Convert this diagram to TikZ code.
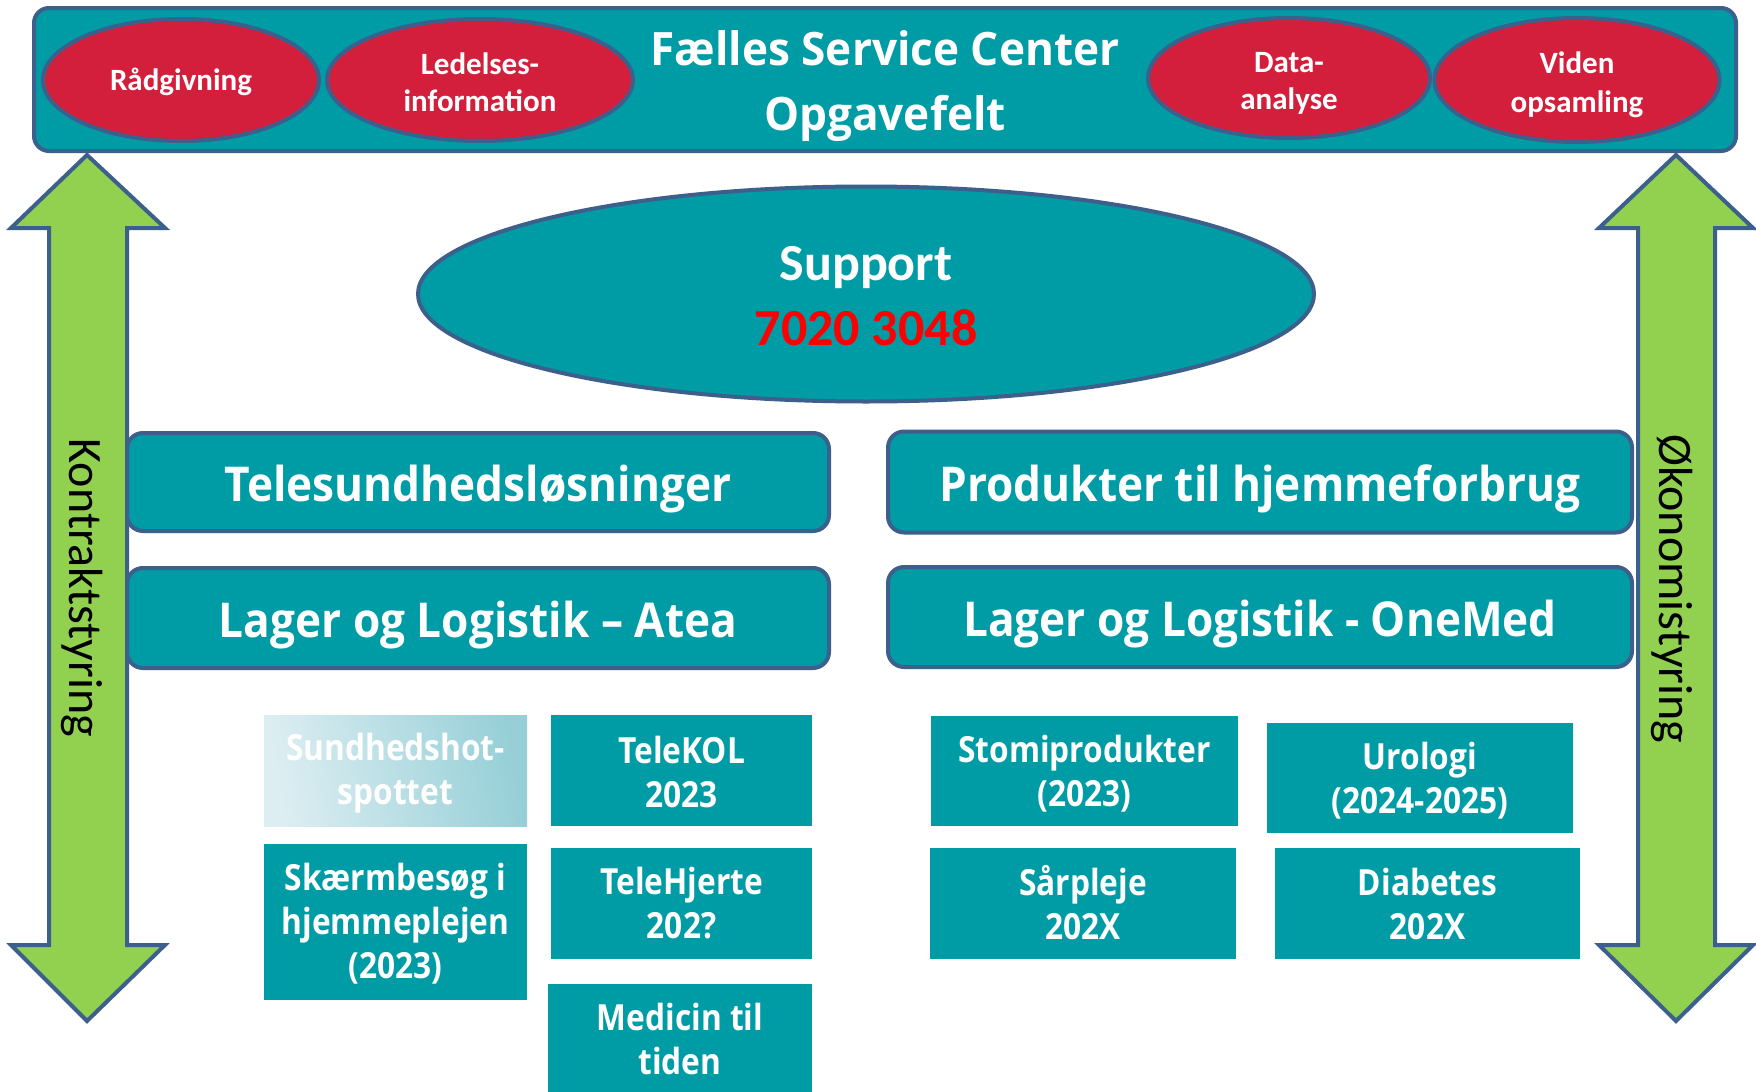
\documentclass[tikz,border=0pt]{standalone}
\usepackage{fontspec}
\usetikzlibrary{shapes.geometric}
\setmainfont{Carlito}
\newfontfamily\titlefont[FakeStretch=0.96]{Open Sans}
\newfontfamily\bigfont[FakeStretch=0.92]{Open Sans}
\newfontfamily\smallfont[FakeStretch=0.88]{Open Sans}
\newfontfamily\calfont{Carlito}
\definecolor{tealc}{HTML}{009CA6}
\definecolor{bordblue}{HTML}{3C5F8C}
\definecolor{redell}{HTML}{D41F3C}
\definecolor{greenar}{HTML}{92D050}
\definecolor{gradL}{HTML}{DDEEF2}
\definecolor{gradR}{HTML}{96CFD7}
\tikzset{
  banner/.style={draw=bordblue, line width=4pt, fill=tealc, rounded corners=15pt, inner sep=0pt},
  titletext/.style={text=white, align=center, inner sep=0pt,
    font=\titlefont\bfseries\fontsize{46}{65}\selectfont},
  redellipse/.style={ellipse, draw=bordblue, line width=4pt, fill=redell, inner sep=0pt},
  ellabel/.style={text=white, align=center, inner sep=0pt,
    font=\calfont\bfseries\fontsize{31}{37}\selectfont},
  supportell/.style={ellipse, draw=bordblue, line width=4pt, fill=tealc, inner sep=0pt},
  supportlabel/.style={align=center, inner sep=0pt,
    font=\calfont\bfseries\fontsize{52}{65}\selectfont},
  bigbox/.style={draw=bordblue, line width=4pt, fill=tealc, rounded corners=16pt, inner sep=0pt},
  biglabel/.style={text=white, inner sep=0pt, font=\bigfont\bfseries\fontsize{48}{58}\selectfont},
  smallbox/.style={fill=tealc, inner sep=0pt},
  smalllabel/.style={text=white, align=center, inner sep=0pt,
    font=\smallfont\bfseries\fontsize{36}{44}\selectfont},
  dblarrow/.style={draw=bordblue, line width=4pt, fill=greenar, line join=miter},
  vlabel/.style={rotate=-90, font=\calfont\fontsize{48}{56}\selectfont, text=black, inner sep=0pt}
}
\begin{document}
\begin{tikzpicture}[x=1pt,y=-1pt]
\useasboundingbox (0,0) rectangle (1756,1092);
\fill[white] (0,0) rectangle (1756,1092);
% arrows
\draw[dblarrow] (87,155) -- (165,228) -- (127,228) -- (127,945) -- (165,945) -- (87,1021)
  -- (11,945) -- (49,945) -- (49,228) -- (11,228) -- cycle;
\draw[dblarrow] (1676,155) -- (1753,228) -- (1715,228) -- (1715,945) -- (1753,945) -- (1676,1021)
  -- (1599,945) -- (1638,945) -- (1638,228) -- (1599,228) -- cycle;
\node[vlabel] (kontrakt) at (82,588) {Kontraktstyring};
\node[vlabel] (oekonomi) at (1672,589) {Økonomistyring};
% top banner
\node[banner, minimum width=1702pt, minimum height=143pt,
  label={[titletext, yshift=-7pt]center:{Fælles Service Center\\Opgavefelt}}] (banner) at (885,79.5) {};
\node[redellipse, minimum width=276pt, minimum height=122pt,
  label={[ellabel, yshift=-2pt]center:{Rådgivning}}] (raad) at (181,80) {};
\node[redellipse, minimum width=306pt, minimum height=122pt,
  label={[ellabel, yshift=-2pt]center:{Ledelses-\\information}}] (led) at (480,80) {};
\node[redellipse, minimum width=282pt, minimum height=120pt,
  label={[ellabel, yshift=-5pt]center:{Data-\\analyse}}] (data) at (1289,78) {};
\node[redellipse, minimum width=285pt, minimum height=124pt,
  label={[ellabel, yshift=-5pt, font=\calfont\bfseries\fontsize{31}{39}\selectfont]center:{Viden\\opsamling}}] (viden) at (1577,80) {};
% support
\node[supportell, minimum width=896pt, minimum height=215pt,
  label={[supportlabel, yshift=-2pt]center:{\textcolor{white}{Support}\\\textcolor{red}{7020 3048}}}] (support) at (866,294) {};
% big boxes
\node[bigbox, minimum width=702pt, minimum height=98pt,
  label={[biglabel, yshift=-7pt]center:{Telesundhedsløsninger}}] (tele) at (478,482) {};
\node[bigbox, minimum width=702pt, minimum height=100pt,
  label={[biglabel, yshift=-7pt]center:{Lager og Logistik – Atea}}] (atea) at (478,618) {};
\node[bigbox, minimum width=744pt, minimum height=101pt,
  label={[biglabel, yshift=-7pt]center:{Produkter til hjemmeforbrug}}] (prod) at (1260,482) {};
\node[bigbox, minimum width=744pt, minimum height=100pt,
  label={[biglabel, yshift=-7pt]center:{Lager og Logistik - OneMed}}] (onemed) at (1260,617) {};
% small boxes
\node[smallbox, left color=gradL, right color=gradR, shading angle=100, minimum width=263pt, minimum height=111pt,
  label={[smalllabel, yshift=-3pt]center:{Sundhedshot-\\spottet}}] (sundh) at (395.5,770.5) {};
\node[smallbox, minimum width=261pt, minimum height=111pt,
  label={[smalllabel, yshift=-1pt]center:{TeleKOL\\2023}}] (telekol) at (681.5,770.5) {};
\node[smallbox, minimum width=263pt, minimum height=156pt,
  label={[smalllabel, yshift=-2pt]center:{Skærmbesøg i\\hjemmeplejen\\(2023)}}] (skaerm) at (395.5,922) {};
\node[smallbox, minimum width=261pt, minimum height=111pt,
  label={[smalllabel]center:{TeleHjerte\\202?}}] (telehj) at (681.5,903.5) {};
\node[smallbox, minimum width=264pt, minimum height=108pt,
  label={[smalllabel, yshift=-1pt]center:{Medicin til\\tiden}}] (medicin) at (680,1038) {};
\node[smallbox, minimum width=307pt, minimum height=110pt,
  label={[smalllabel, yshift=-3pt]center:{Stomiprodukter\\(2023)}}] (stomi) at (1084.5,771) {};
\node[smallbox, minimum width=306pt, minimum height=110pt,
  label={[smalllabel, yshift=-3pt]center:{Urologi\\(2024-2025)}}] (uro) at (1420,778) {};
\node[smallbox, minimum width=306pt, minimum height=111pt,
  label={[smalllabel, yshift=1pt]center:{Sårpleje\\202X}}] (saar) at (1083,903.5) {};
\node[smallbox, minimum width=305pt, minimum height=111pt,
  label={[smalllabel]center:{Diabetes\\202X}}] (diab) at (1427.5,903.5) {};
\end{tikzpicture}
\end{document}
